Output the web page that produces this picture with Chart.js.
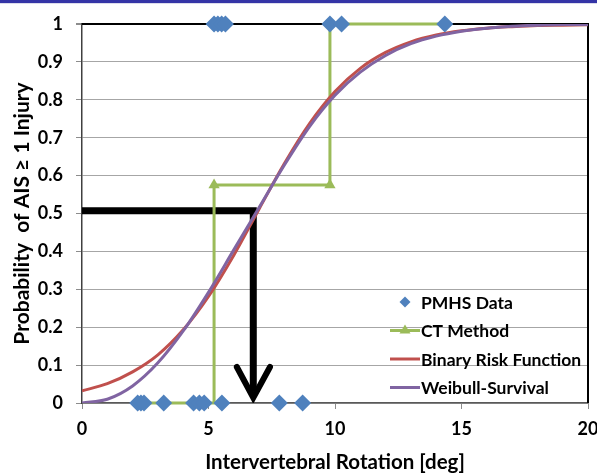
<!DOCTYPE html>
<html>
<head>
<meta charset="utf-8">
<script src="https://cdn.jsdelivr.net/npm/chart.js@4.4.1/dist/chart.umd.min.js"></script>
<style>
  html, body { margin: 0; padding: 0; background: #fff; }
  #wrap { position: absolute; left: 0; top: 0; width: 597px; height: 476px; }
  #bar { position: absolute; left: 0; top: 0; width: 597px; height: 3px; background: #3434a6; border-bottom: 1px solid #dcdcec; }
</style>
</head>
<body>
<div id="wrap"><canvas id="chart" width="597" height="476"></canvas></div>
<div id="bar"></div>
<script>
// values
const rotationDeg = [ 0, 1, 2, 3, 4, 5, 6, 7, 8, 9, 10, 11, 12, 13, 14, 15, 16, 17, 18, 19, 20 ]
const binaryRisk = [ 0.032, 0.051, 0.082, 0.127, 0.193, 0.281, 0.390, 0.512, 0.632, 0.738, 0.822, 0.883, 0.925, 0.953, 0.971, 0.982, 0.989, 0.993, 0.996, 0.997, 0.998 ]
const weibullSurvival = [ 0, 0.010, 0.045, 0.106, 0.190, 0.292, 0.404, 0.516, 0.628, 0.730, 0.812, 0.873, 0.917, 0.948, 0.968, 0.981, 0.989, 0.994, 0.997, 0.999, 0.999 ]

const pmhsX = [ 2.2, 2.33, 2.45, 3.23, 4.41, 4.64, 4.83, 5.53, 7.8, 8.72, 5.22, 5.37, 5.52, 5.67, 9.8, 10.26, 14.34 ]
const pmhsY = [ 0, 0, 0, 0, 0, 0, 0, 0, 0, 0, 1, 1, 1, 1, 1, 1, 1 ]

const ctX = [ 2.2, 5.22, 5.22, 9.8, 9.8, 14.34 ]
const ctY = [ 0, 0, 0.575, 0.575, 1, 1 ]

// the 50% read-off arrow
const arrowX = [ -0.1, 6.77, 6.77 ]
const arrowY = [ 0.507, 0.507, 0.03 ]
const arrowHeadX = [ 6.12, 6.77, 7.43 ]
const arrowHeadY = [ 0.095, 0.014, 0.095 ]

const legendLabels = [ 'PMHS Data', 'CT Method', 'Binary Risk Function', 'Weibull-Survival' ]

const FONT = 'Lato'
const pts = ( xs, ys ) => xs.map( ( x, i ) => ( { x: x, y: ys[ i ] } ) )

const BLUE = '#4f81bd', GREEN = '#9bbb59', RED = '#c0504d', PURPLE = '#8064a2'

const frame = {
  id: 'frame',
  beforeDatasetsDraw( chart ) {
    const { ctx, chartArea: a } = chart
    ctx.save( )
    ctx.strokeStyle = '#000'
    ctx.lineWidth = 2
    ctx.beginPath( )
    ctx.moveTo( a.left, a.top )
    ctx.lineTo( a.right, a.top )
    ctx.lineTo( a.right, a.bottom )
    ctx.stroke( )
    ctx.restore( )
  }
}

const insideLegend = {
  id: 'insideLegend',
  afterDatasetsDraw( chart ) {
    const { ctx, chartArea: a } = chart
    const x0 = a.right - 198, x1 = a.right - 168, xm = ( x0 + x1 ) / 2
    ctx.save( )
    ctx.font = `bold 17.5px ${FONT}`
    ctx.textBaseline = 'middle'
    ctx.fillStyle = '#000'
    legendLabels.forEach( ( label, i ) => {
      const y = a.bottom - 101 + i * 28.5
      if ( i === 0 ) {
        ctx.fillStyle = BLUE
        ctx.beginPath( )
        ctx.moveTo( xm, y - 5.5 ); ctx.lineTo( xm + 5.5, y ); ctx.lineTo( xm, y + 5.5 ); ctx.lineTo( xm - 5.5, y )
        ctx.closePath( ); ctx.fill( )
      } else {
        ctx.strokeStyle = [ null, GREEN, RED, PURPLE ][ i ]
        ctx.lineWidth = 3
        ctx.beginPath( ); ctx.moveTo( x0, y ); ctx.lineTo( x1, y ); ctx.stroke( )
        if ( i === 1 ) {
          ctx.fillStyle = GREEN
          ctx.beginPath( )
          ctx.moveTo( xm, y - 6 ); ctx.lineTo( xm + 5.5, y + 3 ); ctx.lineTo( xm - 5.5, y + 3 )
          ctx.closePath( ); ctx.fill( )
        }
      }
      ctx.fillStyle = '#000'
      ctx.fillText( label, x1 + 1, y + 1 )
    } )
    ctx.restore( )
  }
}

const chart = new Chart( document.getElementById( 'chart' ), {
  type: 'line',
  data: {
    datasets: [ {
      label: legendLabels[ 0 ],
      data: pts( pmhsX, pmhsY ),
      showLine: false,
      pointStyle: 'rectRot',
      pointRadius: 8.5,
      pointBorderWidth: 0,
      backgroundColor: BLUE,
      borderColor: BLUE,
      clip: false,
      order: 0
    }, {
      label: legendLabels[ 1 ],
      data: pts( ctX, ctY ),
      borderColor: GREEN,
      backgroundColor: GREEN,
      borderWidth: 3,
      pointStyle: 'triangle',
      pointRadius: [ 0, 0, 6.5, 6.5, 0, 0 ],
      pointBorderWidth: 0,
      tension: 0,
      clip: false,
      order: 3
    }, {
      label: legendLabels[ 2 ],
      data: pts( rotationDeg, binaryRisk ),
      borderColor: RED,
      borderWidth: 3,
      pointRadius: 0,
      cubicInterpolationMode: 'monotone',
      order: 2
    }, {
      label: legendLabels[ 3 ],
      data: pts( rotationDeg, weibullSurvival ),
      borderColor: PURPLE,
      borderWidth: 3,
      pointRadius: 0,
      cubicInterpolationMode: 'monotone',
      order: 1
    }, {
      label: 'arrow',
      data: pts( arrowX, arrowY ),
      borderColor: '#000',
      borderWidth: 7,
      borderJoinStyle: 'miter',
      pointRadius: 0,
      tension: 0,
      order: 4
    }, {
      label: 'arrow head',
      data: pts( arrowHeadX, arrowHeadY ),
      borderColor: '#000',
      borderWidth: 6,
      borderCapStyle: 'round',
      borderJoinStyle: 'miter',
      pointRadius: 0,
      tension: 0,
      order: 4
    } ]
  },
  options: {
    responsive: false,
    animation: false,
    events: [ ],
    layout: { padding: { left: 0, right: 0, top: 24, bottom: 0 } },
    plugins: { legend: { display: false }, tooltip: { enabled: false } },
    scales: {
      x: {
        type: 'linear',
        min: 0, max: 20,
        ticks: { stepSize: 5, color: '#000', padding: 9, font: { family: FONT, size: 18, weight: 'bold' } },
        grid: { drawOnChartArea: false, tickLength: 6, tickColor: '#8c8c8c' },
        border: { color: '#595959', width: 1.5 },
        title: { display: true, text: 'Intervertebral Rotation [deg]', color: '#000', padding: { top: 0, bottom: 1 }, font: { family: FONT, size: 20.5, weight: 'bold' } },
        afterFit( s ) { s.height = 73; s.paddingRight = 9 }
      },
      y: {
        min: 0, max: 1,
        ticks: { stepSize: 0.1, color: '#000', padding: 13, font: { family: FONT, size: 18, weight: 'bold' },
          callback: ( v ) => String( Math.round( v * 10 ) / 10 ) },
        grid: { tickLength: 6, tickColor: '#8c8c8c',
          color: ( c ) => c.tick && c.tick.value === 1 ? '#000' : '#a6a6a6',
          lineWidth: ( c ) => c.tick && c.tick.value === 1 ? 2 : 1 },
        border: { color: '#404040', width: 1.5 },
        title: { display: true, text: 'Probability  of AIS \u2265 1 Injury', color: '#000', padding: { top: 10, bottom: 0 }, font: { family: FONT, size: 21, weight: 'bold' } },
        afterFit( s ) { s.width = 82 }
      }
    }
  },
  plugins: [ frame, insideLegend ]
} )
</script>
</body>
</html>
